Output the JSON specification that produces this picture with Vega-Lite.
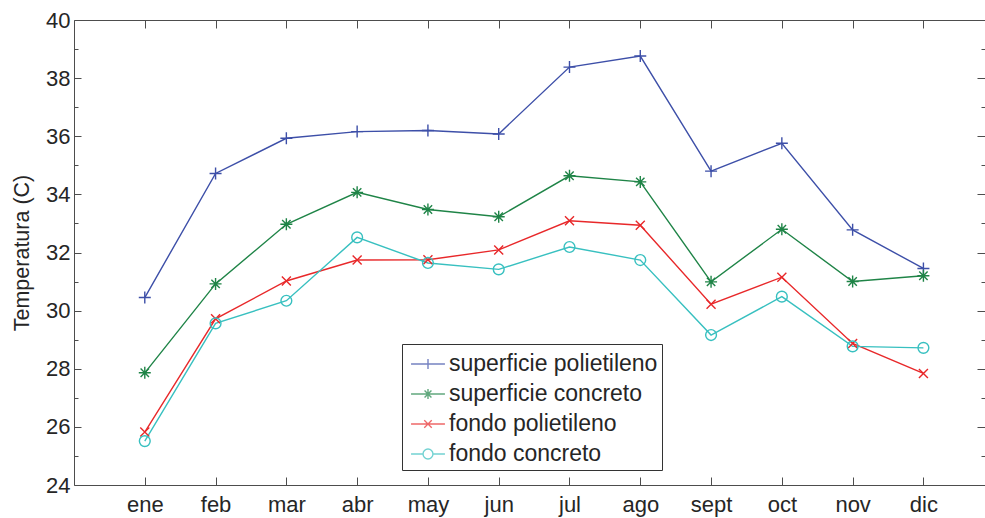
{
  "$schema": "https://vega.github.io/schema/vega-lite/v6.json",
  "width": 911,
  "height": 465,
  "autosize": {"type": "none"},
  "padding": {"left": 74, "top": 20, "right": 0, "bottom": 33},
  "background": "white",
  "config": {
    "view": {"stroke": "#4d4d4d", "strokeWidth": 1},
    "axis": {
      "labelFont": "Liberation Sans",
      "titleFont": "Liberation Sans",
      "labelColor": "#262626",
      "titleColor": "#262626",
      "tickColor": "#4d4d4d",
      "tickWidth": 1,
      "domain": false,
      "grid": false,
      "labelFontSize": 22,
      "titleFontWeight": "normal"
    }
  },
  "datasets": {
    "temps": [
      {"mes": 1, "serie": "superficie polietileno", "t": 30.45},
      {"mes": 2, "serie": "superficie polietileno", "t": 34.72},
      {"mes": 3, "serie": "superficie polietileno", "t": 35.93},
      {"mes": 4, "serie": "superficie polietileno", "t": 36.16},
      {"mes": 5, "serie": "superficie polietileno", "t": 36.2},
      {"mes": 6, "serie": "superficie polietileno", "t": 36.08},
      {"mes": 7, "serie": "superficie polietileno", "t": 38.38},
      {"mes": 8, "serie": "superficie polietileno", "t": 38.76},
      {"mes": 9, "serie": "superficie polietileno", "t": 34.8},
      {"mes": 10, "serie": "superficie polietileno", "t": 35.76},
      {"mes": 11, "serie": "superficie polietileno", "t": 32.78},
      {"mes": 12, "serie": "superficie polietileno", "t": 31.45},
      {"mes": 1, "serie": "superficie concreto", "t": 27.86},
      {"mes": 2, "serie": "superficie concreto", "t": 30.92},
      {"mes": 3, "serie": "superficie concreto", "t": 32.97},
      {"mes": 4, "serie": "superficie concreto", "t": 34.07},
      {"mes": 5, "serie": "superficie concreto", "t": 33.48},
      {"mes": 6, "serie": "superficie concreto", "t": 33.23},
      {"mes": 7, "serie": "superficie concreto", "t": 34.64},
      {"mes": 8, "serie": "superficie concreto", "t": 34.43},
      {"mes": 9, "serie": "superficie concreto", "t": 30.99},
      {"mes": 10, "serie": "superficie concreto", "t": 32.8},
      {"mes": 11, "serie": "superficie concreto", "t": 31.0},
      {"mes": 12, "serie": "superficie concreto", "t": 31.2},
      {"mes": 1, "serie": "fondo polietileno", "t": 25.82},
      {"mes": 2, "serie": "fondo polietileno", "t": 29.72},
      {"mes": 3, "serie": "fondo polietileno", "t": 31.02},
      {"mes": 4, "serie": "fondo polietileno", "t": 31.74},
      {"mes": 5, "serie": "fondo polietileno", "t": 31.75},
      {"mes": 6, "serie": "fondo polietileno", "t": 32.09},
      {"mes": 7, "serie": "fondo polietileno", "t": 33.09},
      {"mes": 8, "serie": "fondo polietileno", "t": 32.94},
      {"mes": 9, "serie": "fondo polietileno", "t": 30.22},
      {"mes": 10, "serie": "fondo polietileno", "t": 31.15},
      {"mes": 11, "serie": "fondo polietileno", "t": 28.87},
      {"mes": 12, "serie": "fondo polietileno", "t": 27.84},
      {"mes": 1, "serie": "fondo concreto", "t": 25.51},
      {"mes": 2, "serie": "fondo concreto", "t": 29.56},
      {"mes": 3, "serie": "fondo concreto", "t": 30.34},
      {"mes": 4, "serie": "fondo concreto", "t": 32.52},
      {"mes": 5, "serie": "fondo concreto", "t": 31.64},
      {"mes": 6, "serie": "fondo concreto", "t": 31.42},
      {"mes": 7, "serie": "fondo concreto", "t": 32.19},
      {"mes": 8, "serie": "fondo concreto", "t": 31.74},
      {"mes": 9, "serie": "fondo concreto", "t": 29.16},
      {"mes": 10, "serie": "fondo concreto", "t": 30.48},
      {"mes": 11, "serie": "fondo concreto", "t": 28.77},
      {"mes": 12, "serie": "fondo concreto", "t": 28.72}
    ]
  },
  "data": {"name": "temps"},
  "layer": [
    {
      "mark": {"type": "line", "strokeWidth": 1.4},
      "encoding": {
        "x": {
          "field": "mes", "type": "quantitative",
          "scale": {"domain": [0, 12.87], "nice": false, "zero": false},
          "axis": {
            "orient": "bottom",
            "values": [1, 2, 3, 4, 5, 6, 7, 8, 9, 10, 11, 12],
            "labelExpr": "['', 'ene', 'feb', 'mar', 'abr', 'may', 'jun', 'jul', 'ago', 'sept', 'oct', 'nov', 'dic'][datum.value]",
            "tickSize": -8,
            "labelPadding": 17,
            "title": null
          }
        },
        "y": {
          "field": "t", "type": "quantitative",
          "scale": {"domain": [24, 40], "nice": false, "zero": false},
          "axis": {
            "orient": "left",
            "values": [24, 26, 28, 30, 32, 34, 36, 38, 40],
            "tickSize": -7,
            "labelPadding": 11,
            "title": "Temperatura (C)",
            "titleFontSize": 21.5,
            "titlePadding": 12
          }
        },
        "color": {
          "field": "serie", "type": "nominal",
          "scale": {
            "domain": ["superficie polietileno", "superficie concreto", "fondo polietileno", "fondo concreto"],
            "range": ["#3d4fa8", "#1f8447", "#e8282a", "#38c0c0"]
          },
          "legend": null
        }
      }
    },
    {
      "mark": {"type": "point", "filled": false, "strokeWidth": 1.4, "size": 144, "opacity": 1},
      "encoding": {
        "x": {
          "field": "mes", "type": "quantitative",
          "scale": {"domain": [0, 12.87], "nice": false, "zero": false},
          "axis": {"orient": "top", "values": [1, 2, 3, 4, 5, 6, 7, 8, 9, 10, 11, 12], "labels": false, "tickSize": -8, "title": null}
        },
        "y": {
          "field": "t", "type": "quantitative",
          "scale": {"domain": [24, 40], "nice": false, "zero": false},
          "axis": {"orient": "right", "values": [24, 26, 28, 30, 32, 34, 36, 38, 40], "labels": false, "tickSize": -8, "title": null}
        },
        "color": {
          "field": "serie", "type": "nominal",
          "scale": {
            "domain": ["superficie polietileno", "superficie concreto", "fondo polietileno", "fondo concreto"],
            "range": ["#3d4fa8", "#1f8447", "#e8282a", "#38c0c0"]
          },
          "legend": null
        },
        "shape": {
          "field": "serie", "type": "nominal",
          "scale": {
            "domain": ["superficie polietileno", "superficie concreto", "fondo polietileno", "fondo concreto"],
            "range": [
              "M-1,0H1M0,-1V1",
              "M-1,0H1M0,-1V1M-0.7,-0.7L0.7,0.7M-0.7,0.7L0.7,-0.7",
              "M-0.75,-0.75L0.75,0.75M-0.75,0.75L0.75,-0.75",
              "M0.9,0A0.9,0.9,0,1,1,-0.9,0A0.9,0.9,0,1,1,0.9,0"
            ]
          },
          "legend": null
        }
      }
    },
    {
      "transform": [{"filter": "false"}],
      "mark": {"type": "point", "filled": false, "strokeWidth": 1.4},
      "encoding": {
        "x": {
          "field": "mes", "type": "quantitative",
          "scale": {"domain": [0, 12.87], "nice": false, "zero": false},
          "axis": null
        },
        "y": {
          "field": "t", "type": "quantitative",
          "scale": {"domain": [24, 40], "nice": false, "zero": false},
          "axis": {"orient": "left", "values": [25, 27, 29, 31, 33, 35, 37, 39], "labels": false, "tickSize": -4, "title": null}
        },
        "color": {
          "field": "serie", "type": "nominal",
          "scale": {
            "domain": ["superficie polietileno", "superficie concreto", "fondo polietileno", "fondo concreto"],
            "range": ["#3d4fa8", "#1f8447", "#e8282a", "#38c0c0"]
          },
          "legend": {
            "orient": "none", "legendX": 328, "legendY": 324, "title": null,
            "labelFont": "Liberation Sans", "labelFontSize": 23, "labelColor": "#262626", "labelLimit": 0,
            "symbolSize": 900, "symbolStrokeWidth": 1.4, "strokeColor": "#333333", "fillColor": "white",
            "padding": 4, "rowPadding": 2, "labelOffset": 11
          }
        },
        "shape": {
          "field": "serie", "type": "nominal",
          "scale": {
            "domain": ["superficie polietileno", "superficie concreto", "fondo polietileno", "fondo concreto"],
            "range": [
              "M-0.73,0H1.53M0.4,-0.33V0.33",
              "M-0.73,0H1.53M0.4,-0.33V0.33M0.17,-0.23L0.63,0.23M0.17,0.23L0.63,-0.23",
              "M-0.73,0H1.53M0.15,-0.25L0.65,0.25M0.15,0.25L0.65,-0.25",
              "M-0.73,0H0.07M0.73,0H1.53M0.07,0A0.33,0.33,0,1,0,0.73,0A0.33,0.33,0,1,0,0.07,0"
            ]
          },
          "legend": {
            "orient": "none", "legendX": 328, "legendY": 324, "title": null,
            "labelFont": "Liberation Sans", "labelFontSize": 23, "labelColor": "#262626", "labelLimit": 0,
            "symbolSize": 900, "symbolStrokeWidth": 1.4, "strokeColor": "#333333", "fillColor": "white",
            "padding": 4, "rowPadding": 2, "labelOffset": 11
          }
        }
      }
    },
    {
      "transform": [{"filter": "false"}],
      "mark": {"type": "point"},
      "encoding": {
        "x": {
          "field": "mes", "type": "quantitative",
          "scale": {"domain": [0, 12.87], "nice": false, "zero": false},
          "axis": null
        },
        "y": {
          "field": "t", "type": "quantitative",
          "scale": {"domain": [24, 40], "nice": false, "zero": false},
          "axis": {"orient": "right", "values": [25, 27, 29, 31, 33, 35, 37, 39], "labels": false, "tickSize": -4, "title": null}
        }
      }
    }
  ],
  "resolve": {
    "scale": {"color": "independent", "shape": "independent"},
    "axis": {"x": "independent", "y": "independent"}
  }
}
